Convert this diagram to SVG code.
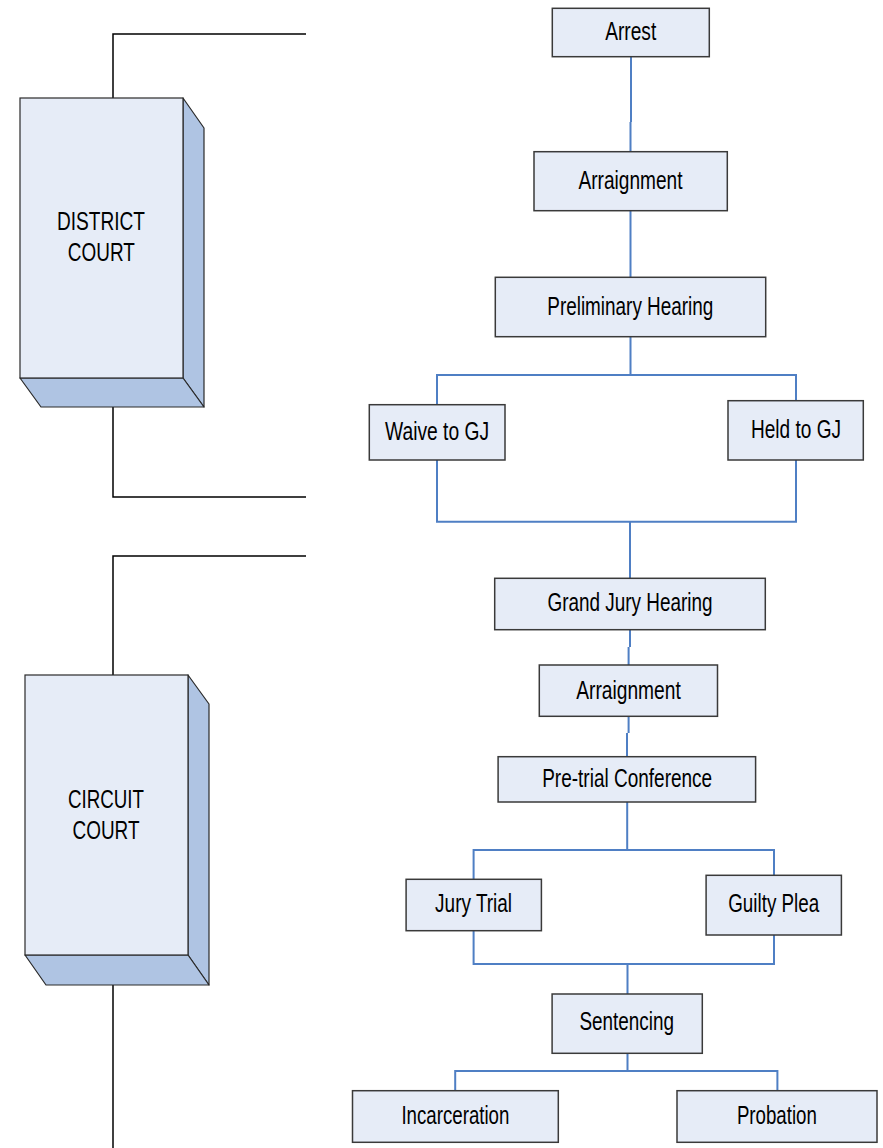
<svg xmlns="http://www.w3.org/2000/svg" width="883" height="1148" viewBox="0 0 883 1148">
<style>
.box{fill:#E6ECF7;stroke:#3a3a3a;stroke-width:1.5}
.side{fill:#AFC4E3;stroke:#2a2a2a;stroke-width:1.2;stroke-linejoin:round}
.front{fill:#E6ECF7;stroke:#2a2a2a;stroke-width:1.2}
.t{font-family:"Liberation Sans",Arial,sans-serif;font-size:26px;fill:#000;text-anchor:middle}
.blue{fill:none;stroke:#4F7FC4;stroke-width:2}
.black{fill:none;stroke:#000;stroke-width:1.5}
</style>
<rect width="883" height="1148" fill="#fff"/>
<g id="connectors">
<path class="black" d="M306,34 H113 V98"/>
<path class="black" d="M113,407 V497 H306"/>
<path class="black" d="M306,556 H113 V675"/>
<path class="black" d="M113,985 V1148"/>
<path class="blue" d="M631,57 V122 M630.5,122 V152"/>
<path class="blue" d="M630.5,211 V277"/>
<path class="blue" d="M630.5,337 V375 M437,404.7 V375 H796 V400.7"/>
<path class="blue" d="M437,460 V521.7 H796 V455 M630,521.7 V578.3"/>
<path class="blue" d="M630,630 V647 M628.6,647 V665"/>
<path class="blue" d="M628.6,716.5 V733 M627,733 V757"/>
<path class="blue" d="M627.2,802 V850 M473.6,879.3 V850 H774 V875.3"/>
<path class="blue" d="M473.6,930.7 V964 H774 V935 M627.5,964 V994"/>
<path class="blue" d="M627.5,1053.3 V1071 M455.2,1090.7 V1071 H777.4 V1090.7"/>
</g>
<g id="district-court">
<polygon class="side" points="183,98 204,128 204,407 183,378"/>
<polygon class="side" points="20,378 183,378 204,407 41,407"/>
<rect class="front" x="20" y="98" width="163" height="280"/>
<text class="t" x="101" y="230" textLength="88" lengthAdjust="spacingAndGlyphs">DISTRICT</text>
<text class="t" x="101.3" y="261" textLength="67" lengthAdjust="spacingAndGlyphs">COURT</text>
</g>
<g id="circuit-court">
<polygon class="side" points="188,675 209,704 209,985 188,955"/>
<polygon class="side" points="25,955 188,955 209,985 46,985"/>
<rect class="front" x="25" y="675" width="163" height="280"/>
<text class="t" x="106" y="807.5" textLength="76" lengthAdjust="spacingAndGlyphs">CIRCUIT</text>
<text class="t" x="106" y="838.5" textLength="67" lengthAdjust="spacingAndGlyphs">COURT</text>
</g>
<g id="arrest"><rect class="box" x="552.3" y="8.3" width="157" height="48.4"/>
<text class="t" x="630.7" y="40" textLength="51" lengthAdjust="spacingAndGlyphs">Arrest</text></g>
<g id="arraignment1"><rect class="box" x="534" y="151.7" width="193.3" height="59"/>
<text class="t" x="630.5" y="189" textLength="104" lengthAdjust="spacingAndGlyphs">Arraignment</text></g>
<g id="preliminary-hearing"><rect class="box" x="495.3" y="277.3" width="270.4" height="59.4"/>
<text class="t" x="630.3" y="315" textLength="166" lengthAdjust="spacingAndGlyphs">Preliminary Hearing</text></g>
<g id="waive-to-gj"><rect class="box" x="369.3" y="404.7" width="135.7" height="55.3"/>
<text class="t" x="437" y="440" textLength="104" lengthAdjust="spacingAndGlyphs">Waive to GJ</text></g>
<g id="held-to-gj"><rect class="box" x="728" y="400.7" width="135.3" height="59.3"/>
<text class="t" x="796" y="438.3" textLength="90" lengthAdjust="spacingAndGlyphs">Held to GJ</text></g>
<g id="grand-jury-hearing"><rect class="box" x="494.7" y="578.3" width="270.6" height="51.4"/>
<text class="t" x="630" y="611" textLength="165" lengthAdjust="spacingAndGlyphs">Grand Jury Hearing</text></g>
<g id="arraignment2"><rect class="box" x="539.3" y="665" width="178.2" height="51.3"/>
<text class="t" x="628.5" y="699" textLength="104.5" lengthAdjust="spacingAndGlyphs">Arraignment</text></g>
<g id="pre-trial-conference"><rect class="box" x="498.1" y="756.7" width="257.5" height="45.3"/>
<text class="t" x="627.2" y="787" textLength="170" lengthAdjust="spacingAndGlyphs">Pre-trial Conference</text></g>
<g id="jury-trial"><rect class="box" x="406.1" y="879.3" width="135.3" height="51.4"/>
<text class="t" x="473.6" y="912.3" textLength="77" lengthAdjust="spacingAndGlyphs">Jury Trial</text></g>
<g id="guilty-plea"><rect class="box" x="706.1" y="875.3" width="135.3" height="59.7"/>
<text class="t" x="773.7" y="912.3" textLength="91" lengthAdjust="spacingAndGlyphs">Guilty Plea</text></g>
<g id="sentencing"><rect class="box" x="552.1" y="994" width="150.2" height="59.3"/>
<text class="t" x="626.7" y="1030" textLength="94.5" lengthAdjust="spacingAndGlyphs">Sentencing</text></g>
<g id="incarceration"><rect class="box" x="352.5" y="1090.7" width="205.8" height="51.6"/>
<text class="t" x="455.4" y="1124" textLength="108" lengthAdjust="spacingAndGlyphs">Incarceration</text></g>
<g id="probation"><rect class="box" x="677" y="1090.7" width="200" height="51.6"/>
<text class="t" x="776.9" y="1124" textLength="80" lengthAdjust="spacingAndGlyphs">Probation</text></g>
</svg>
